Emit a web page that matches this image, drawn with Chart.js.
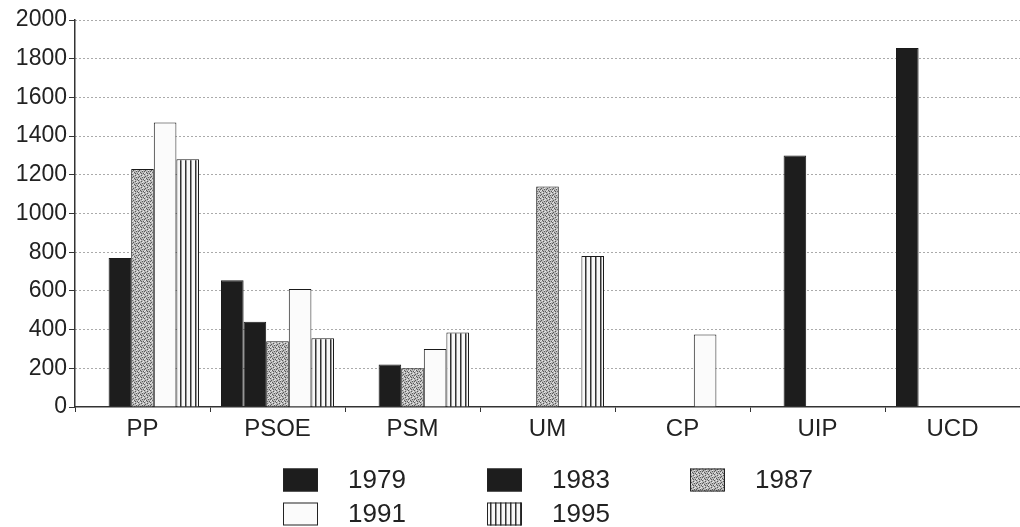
<!DOCTYPE html>
<html>
<head>
<meta charset="utf-8">
<script src="https://cdn.jsdelivr.net/npm/chart.js@4.4.1/dist/chart.umd.min.js"></script>
<style>
  html, body { margin: 0; padding: 0; background: #ffffff; }
  #wrap { width: 1020px; height: 527px; position: relative; }
</style>
</head>
<body>
<div id="wrap"><canvas id="c" width="1020" height="527"></canvas></div>
<script>
// ---- data ----
const categories = ['PP', 'PSOE', 'PSM', 'UM', 'CP', 'UIP', 'UCD'];
const years = ['1979', '1983', '1987', '1991', '1995'];
const v1979 = [null, 655, null, null, null, null, 1855];
const v1983 = [770, 440, 220, null, null, 1300, null];
const v1987 = [1230, 340, 200, 1140, null, null, null];
const v1991 = [1470, 610, 300, null, 375, null, null];
const v1995 = [1280, 355, 385, 780, null, null, null];
const yTickValues = [0, 200, 400, 600, 800, 1000, 1200, 1400, 1600, 1800, 2000];

// ---- fill patterns ----
function makeTile(w, h, draw) {
  const c = document.createElement('canvas');
  c.width = w; c.height = h;
  const x = c.getContext('2d');
  draw(x, w, h);
  return x.createPattern(c, 'repeat');
}
const solidBlack = '#1d1d1d';
const stipple = makeTile(6, 6, (x) => {
  x.fillStyle = '#b8b8b8'; x.fillRect(0, 0, 6, 6);
  const dark = [[0,0],[3,1],[1,2],[4,3],[2,4],[5,5],[0,3],[3,5]];
  const light = [[2,0],[5,1],[0,5],[4,2],[1,4]];
  x.fillStyle = '#5a5a5a'; dark.forEach(p => x.fillRect(p[0], p[1], 1, 1));
  x.fillStyle = '#e8e8e8'; light.forEach(p => x.fillRect(p[0], p[1], 1, 1));
});
const whiteFill = '#fbfbfb';
const stripes = makeTile(5, 4, (x) => {
  x.fillStyle = '#f8f8f8'; x.fillRect(0, 0, 5, 4);
  x.fillStyle = '#333333'; x.fillRect(0, 0, 1.5, 4);
});
const fills = [solidBlack, solidBlack, stipple, whiteFill, stripes];
const series = [v1979, v1983, v1987, v1991, v1995];

// ---- custom legend (3 columns) ----
const gridLegend = {
  id: 'gridLegend',
  afterDraw(chart) {
    const ctx = chart.ctx;
    const colX = [283, 487, 690];
    const rowY = [480, 514];
    ctx.save();
    ctx.font = '26px "Liberation Sans", Arial, sans-serif';
    ctx.textBaseline = 'middle';
    ctx.textAlign = 'left';
    years.forEach((y, i) => {
      const cx = colX[i % 3], cy = rowY[Math.floor(i / 3)];
      ctx.fillStyle = fills[i];
      ctx.fillRect(cx, cy - 11.5, 35, 23);
      ctx.strokeStyle = '#222';
      ctx.lineWidth = 1;
      ctx.strokeRect(cx + 0.5, cy - 11.5 + 0.5, 34, 22);
      ctx.fillStyle = '#222';
      ctx.fillText(y, cx + 65, cy + 1);
    });
    ctx.restore();
  }
};

new Chart(document.getElementById('c'), {
  type: 'bar',
  data: {
    labels: categories,
    datasets: years.map((y, i) => ({
      label: y,
      data: series[i],
      backgroundColor: fills[i],
      borderColor: '#1a1a1a',
      borderWidth: 1,
      categoryPercentage: 0.837,
      barPercentage: 1.0
    }))
  },
  options: {
    responsive: false,
    animation: false,
    devicePixelRatio: 1,
    layout: { padding: { top: 20, right: 0, bottom: 80, left: 0 } },
    plugins: { legend: { display: false }, tooltip: { enabled: false } },
    scales: {
      x: {
        offset: true,
        grid: {
          offset: true,
          drawOnChartArea: false,
          drawTicks: true,
          tickLength: 5,
          tickColor: '#333',
          color: '#333'
        },
        border: { display: true, color: '#333', width: 1.5 },
        ticks: {
          color: '#222',
          padding: 3,
          font: { family: '"Liberation Sans", Arial, sans-serif', size: 24 }
        },
        afterFit(s) { s.height = 40; }
      },
      y: {
        min: 0,
        max: 2000,
        afterBuildTicks(s) { s.ticks = yTickValues.map(v => ({ value: v })); },
        grid: {
          color: (c) => (c.tick && c.tick.value === 0) ? 'rgba(0,0,0,0)' : '#555',
          lineWidth: 1,
          drawTicks: true,
          tickLength: 6,
          tickColor: '#333',
          tickBorderDash: [],
          tickWidth: 1
        },
        border: { display: true, color: '#333', width: 1.5, dash: [1, 3] },
        ticks: {
          color: '#222',
          padding: 2,
          font: { family: '"Liberation Sans", Arial, sans-serif', size: 23 },
          callback: (v) => String(v)
        },
        afterFit(s) { s.width = 75; }
      }
    }
  },
  plugins: [gridLegend]
});
</script>
</body>
</html>
